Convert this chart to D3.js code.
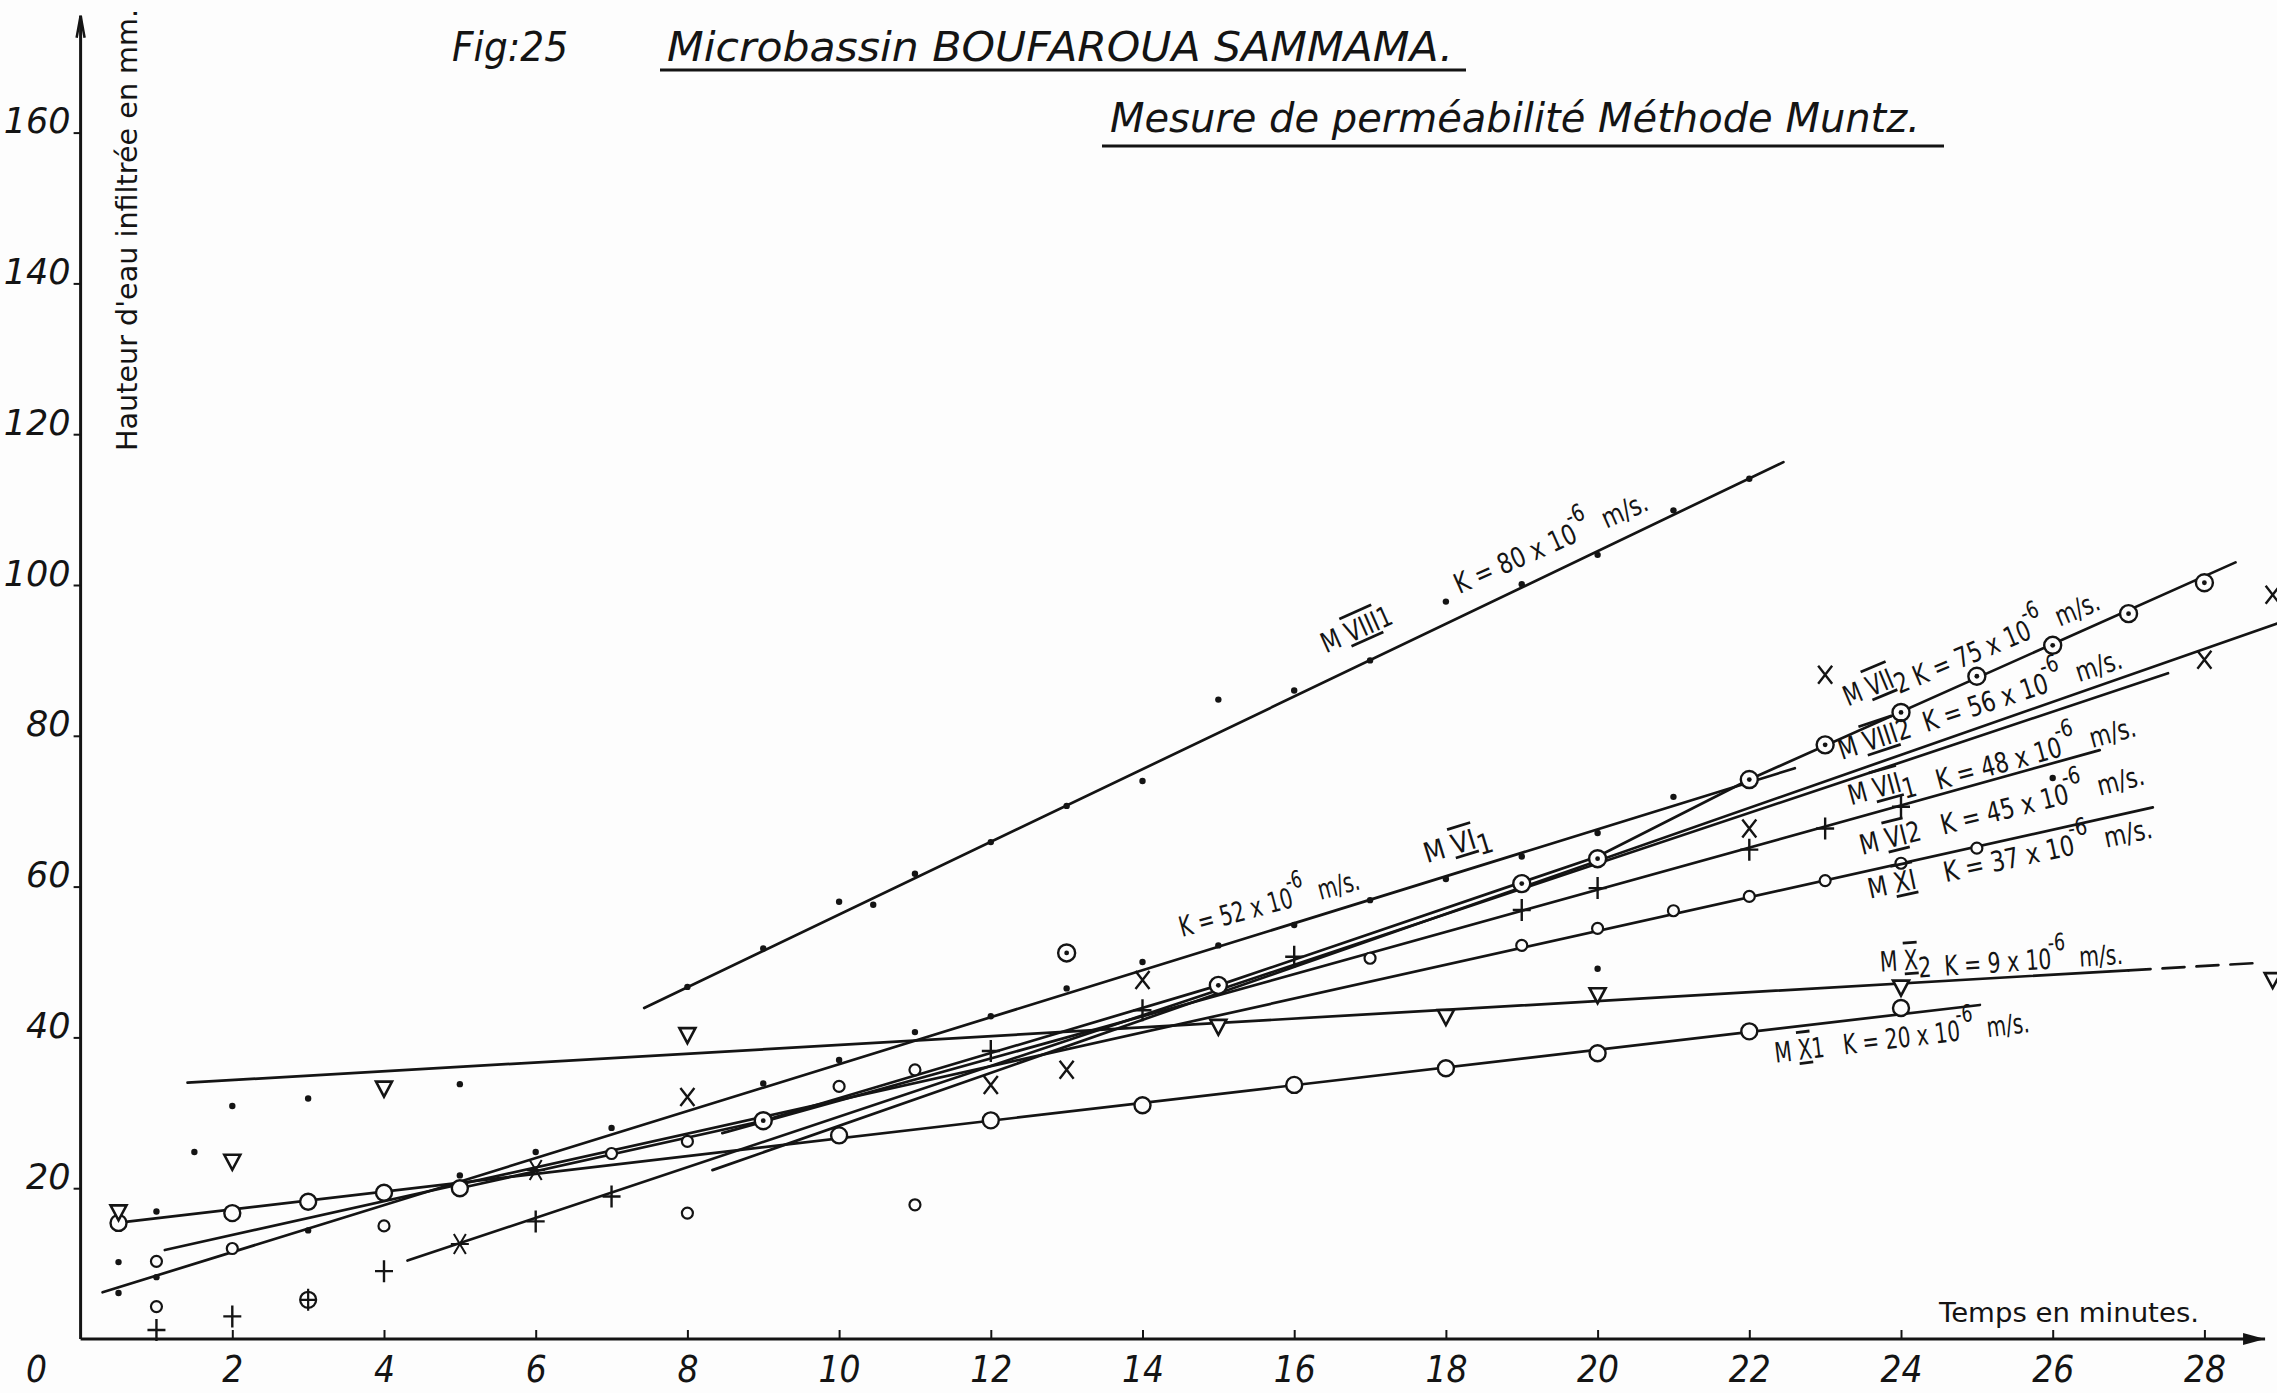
<!DOCTYPE html>
<html>
<head>
<meta charset="utf-8">
<script src="https://cdn.jsdelivr.net/npm/d3@7"></script>
<style>
  html, body { margin: 0; padding: 0; background: #fdfdfd; }
  svg { display: block; }
</style>
</head>
<body>
<svg id="chart" width="2277" height="1393"></svg>
<script>
// ---------------------------------------------------------------
// Microbassin Boufaroua Sammama — Muntz infiltration tests
// time (minutes) vs cumulative infiltrated height (mm)
// ---------------------------------------------------------------

const xTicks = [2, 4, 6, 8, 10, 12, 14, 16, 18, 20, 22, 24, 26, 28];
const yTicks = [20, 40, 60, 80, 100, 120, 140, 160];

// measured points, [minutes, mm]
const ptsVIII1 = [[0.5,10.2],[1,16.9],[1.5,24.8],[2,30.9],[3,31.9],[5,33.8],[8,46.7],[9,51.8],[10,58.0],[10.45,57.6],[11,61.7],[12,65.9],[13,70.7],[14,74.0],[15,84.8],[16,86.0],[17,90.0],[18,97.8],[19,100.1],[20,104.0],[21,109.9],[22,114.1]];
const ptsVI1   = [[0.5,6.1],[1,8.2],[3,14.4],[5,21.7],[6,24.8],[7,28.0],[9,33.9],[10,37.0],[11,40.7],[12,42.8],[13,46.5],[14,50.0],[15,52.2],[16,54.9],[17,58.2],[18,61.0],[19,64.0],[20,67.1],[21,71.9]];
const ptsVII2  = [[9,28.95],[13,51.2],[15,46.9],[19,60.4],[20,63.7],[22,74.2],[23,78.8],[24,83.1],[25,87.9],[26,92.0],[27,96.2],[28,100.3]];
const ptsVIII2 = [[8,32.1],[12,33.7],[13,35.7],[14,47.6],[22,67.7],[23,88.1],[28,90.1],[28.9,98.7]];
const ptsVII1  = [[1,1.2],[2,3.0],[4,9.0],[6,15.6],[7,18.9],[12,38.2],[14,43.6],[16,50.7],[19,56.9],[20,59.8],[22,64.9],[23,67.7],[24,70.6]];
const ptsStar  = [[5,12.6],[6,22.4]];
const ptsOplus = [[3,5.2]];
const ptsX1    = [[0.5,15.4],[2,16.7],[3,18.2],[4,19.4],[5,20.0],[10,27.0],[12,29.0],[14,31.0],[16,33.7],[18,35.9],[20,37.9],[22,40.8],[24,43.9]];
const ptsX2    = [[0.5,16.8],[2,23.5],[4,33.2],[8,40.3],[15,41.4],[18,42.7],[20,45.6],[24,46.6],[28.9,47.6]];
const ptsXI    = [[1,10.3],[2,12.0],[19,52.2],[20,54.45],[21,56.8],[22,58.7],[23,60.8],[24,63.1],[25,65.1]];
const ptsVI2   = [[1,4.3],[4,15.0],[7,24.6],[8,16.7],[8,26.2],[10,33.5],[11,17.8],[11,35.7],[17,50.5]];
const ptsVI2dots = [[20,49.1],[26,74.4]];

// fitted lines, [minutes, mm] knots
const lineVIII1 = [[7.43,43.9],[22.45,116.3]];
const lineVII2  = [[5.0,20.0],[9,28.95],[15,46.9],[20,64.0],[22,74.2],[28.41,103.0]];
const lineVIII2 = [[4.31,10.4],[27.52,88.3]];
const lineVI2   = [[8.33,22.4],[28.96,94.9]];
const lineVII1  = [[8.46,27.3],[26.62,78.1]];
const lineVI1   = [[0.29,6.2],[22.6,75.7]];
const lineXI    = [[1.11,11.8],[27.32,70.5]];
const lineX1    = [[0.48,15.4],[25.04,44.3]];
const lineX2    = [[1.41,34.0],[27.0,48.9]];
const lineX2ext = [[27.0,48.9],[28.75,49.9]];

// K values (x 10^-6 m/s) and label placement along each line, [minutes, mm]
const labelSpecs = [
  { from:[16.42,90.9], to:[20.73,110.2], num:"VIII", idx:"1", idxSub:false, k:"80", gap:"          " },
  { from:[14.52,53.3], to:[16.92,59.8],  num:null,   idx:null, k:"52", gap:"" },
  { from:[17.75,63.1], to:[18.62,65.8],  num:"VI",   idx:"1", idxSub:true,  k:null },
  { from:[23.30,83.9], to:[26.64,98.0],  num:"VII",  idx:"2", idxSub:true,  k:"75", gap:" " },
  { from:[23.22,76.8], to:[26.98,89.2],  num:"VIII", idx:"2", idxSub:false, k:"56", gap:"  " },
  { from:[23.34,70.8], to:[27.13,81.2],  num:"VII",  idx:"1", idxSub:true,  k:"48", gap:"   " },
  { from:[23.49,64.2], to:[27.27,73.7],  num:"VI",   idx:"2", idxSub:false, k:"45", gap:"   " },
  { from:[23.59,58.4], to:[27.37,66.6],  num:"XI",   idx:"",  idxSub:false, k:"37", gap:"    " },
  { from:[23.73,48.7], to:[26.96,50.9],  num:"X",    idx:"2", idxSub:true,  k:"9",  gap:"  " },
  { from:[22.35,36.65],to:[25.74,40.76], num:"X",    idx:"1", idxSub:false, k:"20", gap:"   " }
];

// ---------------------------------------------------------------
const INK = "#141414";
const PAPER = "#fdfdfd";
const svg = d3.select("#chart");
svg.append("rect").attr("width", 2277).attr("height", 1393).attr("fill", PAPER);

const x = d3.scaleLinear().domain([0, 28]).range([80.6, 2204.4]);
const y = d3.scaleLinear().domain([0, 160]).range([1339, 132.6]);

const tickFont = "'DejaVu Sans', sans-serif";

// ---- axes ----
const axisG = svg.append("g");
const xAxisEnd = 28.8, yAxisEnd = 175.5;

axisG.append("line")
  .attr("x1", x(0)).attr("x2", x(xAxisEnd))
  .attr("y1", y(0)).attr("y2", y(0))
  .attr("stroke", INK).attr("stroke-width", 3);
axisG.append("path")
  .attr("d", `M${x(xAxisEnd) - 22},${y(0) - 6} L${x(xAxisEnd)},${y(0)} L${x(xAxisEnd) - 22},${y(0) + 6} Z`)
  .attr("fill", INK);

axisG.append("line")
  .attr("x1", x(0)).attr("x2", x(0))
  .attr("y1", y(0)).attr("y2", y(yAxisEnd))
  .attr("stroke", INK).attr("stroke-width", 3);
axisG.append("path")
  .attr("d", `M${x(0) - 4},${y(yAxisEnd) + 22} L${x(0)},${y(yAxisEnd)} L${x(0) + 4},${y(yAxisEnd) + 22}`)
  .attr("fill", "none").attr("stroke", INK).attr("stroke-width", 2.5);

const xAxis = d3.axisBottom(x).tickValues(xTicks).tickSizeInner(-9).tickSizeOuter(0).tickFormat(d3.format("d"));
const gx = svg.append("g").attr("transform", `translate(0,${y(0)})`).call(xAxis);
gx.select(".domain").remove();
gx.selectAll(".tick line").attr("stroke", INK).attr("stroke-width", 2);
gx.selectAll(".tick text")
  .attr("y", 43).attr("dy", 0)
  .attr("fill", INK)
  .attr("textLength", d => String(d).length * 21).attr("lengthAdjust", "spacingAndGlyphs")
  .style("font-family", tickFont).style("font-style", "italic")
  .style("font-size", "37px");

const yAxis = d3.axisLeft(y).tickValues(yTicks).tickSizeInner(7).tickSizeOuter(0).tickFormat(d3.format("d"));
const gy = svg.append("g").attr("transform", `translate(${x(0)},0)`).call(yAxis);
gy.select(".domain").remove();
gy.selectAll(".tick line").attr("stroke", INK).attr("stroke-width", 2);
gy.selectAll(".tick text")
  .attr("x", -10).attr("dy", 0)
  .attr("fill", INK)
  .style("font-family", tickFont).style("font-style", "italic")
  .style("font-size", "35px");

// origin label
svg.append("text")
  .attr("x", x(0) - 44).attr("y", y(0) + 43)
  .attr("text-anchor", "middle").attr("fill", INK)
  .attr("textLength", 21).attr("lengthAdjust", "spacingAndGlyphs")
  .style("font-family", tickFont).style("font-style", "italic").style("font-size", "37px")
  .text("0");

// axis titles
svg.append("text")
  .attr("transform", `translate(137,451) rotate(-90)`)
  .attr("fill", INK)
  .attr("textLength", 442).attr("lengthAdjust", "spacingAndGlyphs")
  .style("font-family", tickFont).style("font-size", "28px")
  .text("Hauteur  d'eau  infiltrée  en  mm.");

svg.append("text")
  .attr("x", 1939).attr("y", 1322)
  .attr("fill", INK)
  .attr("textLength", 260).attr("lengthAdjust", "spacingAndGlyphs")
  .style("font-family", tickFont).style("font-size", "26px")
  .text("Temps  en   minutes.");

// ---- titles ----
const titleFont = "'DejaVu Sans', sans-serif";
function title(txt, x0, base, len, size) {
  svg.append("text")
    .attr("x", x0).attr("y", base).attr("fill", INK)
    .attr("textLength", len).attr("lengthAdjust", "spacingAndGlyphs")
    .style("font-family", titleFont).style("font-style", "italic")
    .style("font-size", size + "px")
    .text(txt);
}
title("Fig:25", 452, 61, 116, 40);
title("Microbassin  BOUFAROUA  SAMMAMA.", 667, 61, 786, 41);
title("Mesure de perméabilité Méthode  Muntz.", 1110, 132, 810, 41);
svg.append("line").attr("x1", 660).attr("x2", 1466).attr("y1", 70).attr("y2", 70)
  .attr("stroke", INK).attr("stroke-width", 3);
svg.append("line").attr("x1", 1102).attr("x2", 1944).attr("y1", 146).attr("y2", 146)
  .attr("stroke", INK).attr("stroke-width", 3);

// ---- fitted lines ----
const line = d3.line().x(d => x(d[0])).y(d => y(d[1]));
const lineG = svg.append("g").attr("fill", "none").attr("stroke", INK).attr("stroke-width", 2.7)
  .attr("stroke-linecap", "round");
[lineVIII1, lineVII2, lineVIII2, lineVI2, lineVII1, lineVI1, lineXI, lineX1, lineX2].forEach(k => {
  lineG.append("path").attr("d", line(k));
});
lineG.append("path").attr("d", line(lineX2ext)).attr("stroke-dasharray", "22,12");

// ---- point symbols ----
const symbols = {
  dot:  g => g.append("circle").attr("r", 3.2).attr("fill", INK),
  odot: g => { g.append("circle").attr("r", 8.5).attr("fill", PAPER).attr("stroke", INK).attr("stroke-width", 2.4);
               g.append("circle").attr("r", 2.4).attr("fill", INK); },
  o:    g => g.append("circle").attr("r", 5.5).attr("fill", PAPER).attr("stroke", INK).attr("stroke-width", 2.2),
  O:    g => g.append("circle").attr("r", 8).attr("fill", PAPER).attr("stroke", INK).attr("stroke-width", 2.4),
  tri:  g => g.append("path").attr("d", "M-8,-7 L8,-7 L0,8 Z").attr("fill", PAPER).attr("stroke", INK).attr("stroke-width", 2.6),
  x:    g => g.append("path").attr("d", "M-7,-9 L7,9 M7,-9 L-7,9").attr("stroke", INK).attr("stroke-width", 2.4),
  plus: g => g.append("path").attr("d", "M-9,0 L9,0 M0,-11 L0,11").attr("stroke", INK).attr("stroke-width", 2.4),
  star: g => g.append("path").attr("d", "M-9,0 L9,0 M-6,-10 L6,10 M6,-10 L-6,10").attr("stroke", INK).attr("stroke-width", 2),
  oplus:g => { g.append("circle").attr("r", 8).attr("fill", "none").attr("stroke", INK).attr("stroke-width", 2.2);
               g.append("path").attr("d", "M-8,0 L8,0 M0,-11 L0,11").attr("stroke", INK).attr("stroke-width", 2.2); }
};

function plotPoints(data, kind) {
  svg.append("g").selectAll("g").data(data).join("g")
    .attr("transform", d => `translate(${x(d[0])},${y(d[1])})`)
    .each(function () { symbols[kind](d3.select(this)); });
}
plotPoints(ptsX1, "O");
plotPoints(ptsX2, "tri");
plotPoints(ptsXI, "o");
plotPoints(ptsVI2, "o");
plotPoints(ptsVI2dots, "dot");
plotPoints(ptsVII1, "plus");
plotPoints(ptsStar, "star");
plotPoints(ptsOplus, "oplus");
plotPoints(ptsVIII2, "x");
plotPoints(ptsVII2, "odot");
plotPoints(ptsVI1, "dot");
plotPoints(ptsVIII1, "dot");

// ---- line labels (rotated along their line, squeezed to span from -> to) ----
const labelFont = "'DejaVu Sans', sans-serif";
const LABEL_SIZE = 28;
const labelG = svg.append("g");
labelSpecs.forEach(s => {
  const x0 = x(s.from[0]), y0 = y(s.from[1]);
  const x1 = x(s.to[0]),   y1 = y(s.to[1]);
  const ang = Math.atan2(y1 - y0, x1 - x0) * 180 / Math.PI;
  const len = Math.hypot(x1 - x0, y1 - y0);
  const t = labelG.append("text")
    .attr("fill", INK)
    .style("white-space", "pre")
    .style("font-family", labelFont).style("font-size", LABEL_SIZE + "px");
  if (s.num) {
    t.append("tspan").text("M ");
    t.append("tspan").text(s.num).style("text-decoration", "underline overline");
    if (s.idx) {
      if (s.idxSub) {
        t.append("tspan").attr("dy", "0.3em").text(s.idx);
        t.append("tspan").attr("dy", "-0.3em").text("");
      } else {
        t.append("tspan").text(s.idx);
      }
    }
  }
  if (s.k) {
    t.append("tspan").text((s.gap || "") + "K = " + s.k + " x 10");
    t.append("tspan").attr("dy", "-0.75em").attr("dx", "-0.15em").style("font-size", "85%").text("-6");
    t.append("tspan").attr("dy", "0.64em").text("  m/s.");
  }
  const w = t.node().getComputedTextLength();
  t.attr("transform", `translate(${x0},${y0}) rotate(${ang}) scale(${len / w},1)`);
});
</script>
</body>
</html>
